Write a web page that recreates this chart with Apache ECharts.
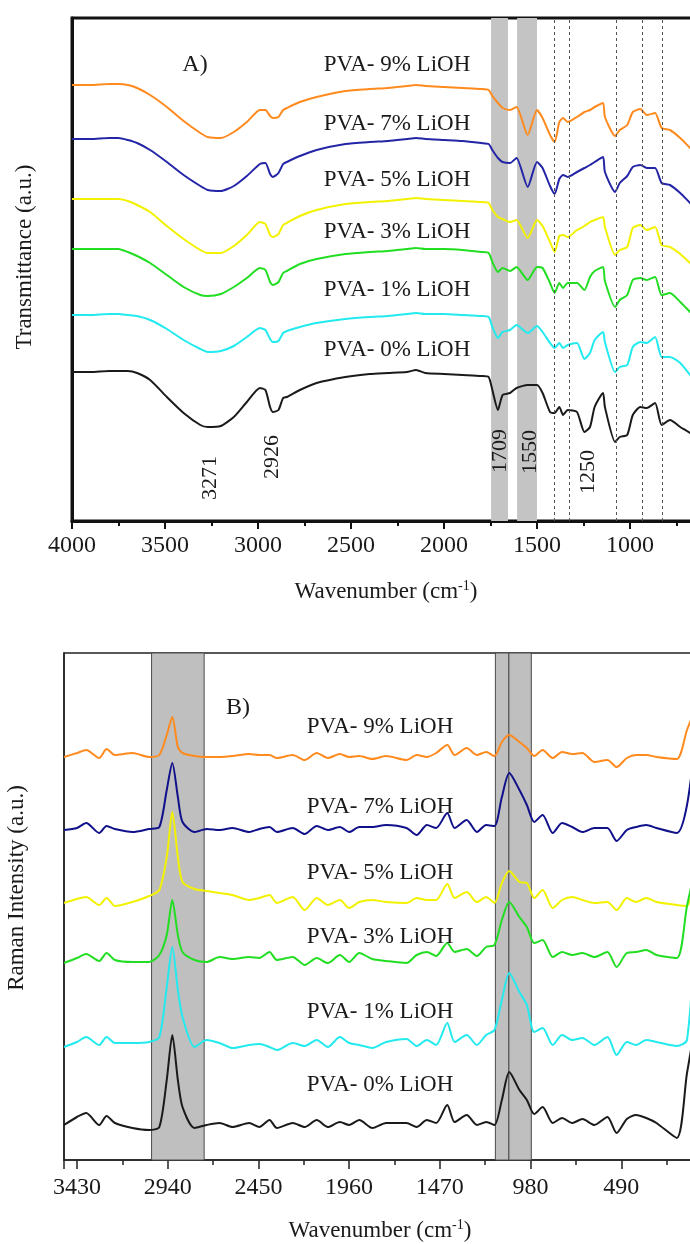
<!DOCTYPE html>
<html><head><meta charset="utf-8">
<script src="https://cdn.jsdelivr.net/npm/echarts@6/dist/echarts.min.js"></script>
<style>html,body{margin:0;padding:0;background:#fff}#c{width:690px;height:1244px}</style>
</head><body><div id="c"></div>
<script>
// ---------- Panel A: FTIR (transmittance, a.u., stacked with offsets) ----------
const ftirWavenumbers = [4000,3900,3800,3750,3700,3650,3580,3490,3400,3310,3270,3200,3130,3060,2990,2960,2935,2920,2890,2865,2845,2775,2685,2530,2400,2300,2200,2150,2100,2000,1900,1800,1760,1740,1710,1685,1645,1610,1550,1500,1470,1430,1405,1380,1360,1335,1285,1245,1215,1190,1145,1135,1080,1055,1015,985,945,910,865,830,785,730,677,660];
const ftir0 = [149,149,150,150,150,148,141,124,108,96,94,95,104,119,133,131,114,109,111,123,124,131,138,144,147,148,149,151,148,147,146,145,144,131,111,126,128,133,136,136,128,109,108,114,106,111,109,89,94,114,128,114,79,84,86,106,114,113,118,96,101,94,88,85];
const ftir1 = [206,206,207,207,206,205,201,192,181,172,169,170,175,184,193,191,182,179,180,188,190,194,198,202,204,205,207,208,207,207,206,205,204,194,183,189,191,196,188,195,189,178,173,178,173,176,178,162,168,181,189,179,149,154,156,174,179,178,184,164,164,158,146,143];
const ftir3 = [272,272,272,272,269,265,258,246,234,226,225,227,234,243,253,251,239,236,239,248,250,257,262,267,269,270,272,273,272,272,271,269,268,259,249,253,250,254,241,254,253,238,228,238,233,238,238,231,244,250,254,240,214,221,226,241,243,241,244,226,228,219,209,206];
const ftir5 = [322,322,322,322,320,316,309,295,282,271,268,268,275,286,299,297,286,284,287,296,298,305,311,317,319,320,322,323,322,321,320,319,318,311,304,302,299,301,283,301,295,279,269,285,286,284,291,295,299,301,304,294,266,271,274,293,296,291,294,276,274,267,258,255];
const ftir7 = [382,382,383,383,381,378,371,359,346,335,331,330,335,345,357,358,347,344,348,357,359,365,371,377,379,380,382,383,382,381,380,378,377,371,363,359,358,363,334,359,353,335,327,342,346,344,349,353,356,359,364,349,329,338,345,354,356,353,353,338,336,328,318,315];
const ftir9 = [436,436,437,437,436,433,426,414,400,388,384,383,389,399,411,411,405,403,404,411,413,419,424,430,432,433,435,436,435,434,433,432,431,425,418,413,411,414,386,411,403,386,379,399,403,399,404,409,411,414,418,404,385,391,396,409,412,406,408,393,391,383,373,370];
const ftirTickLabels = [4000,3500,3000,2500,2000,1500,1000,500];
const ftirBands = [[1747,1656],[1607,1500]];
const ftirDashedLines = [1405,1328,1075,932,828];
const ftirPeakLabels = ['3271','2926','1709','1550','1250'];

// ---------- Panel B: Raman (intensity, a.u., stacked with offsets) ----------
const ramanWavenumbers = [3500,3430,3380,3310,3270,3225,3130,3040,2985,2945,2915,2885,2860,2795,2730,2660,2590,2500,2445,2390,2350,2265,2200,2135,2075,2010,1960,1905,1835,1760,1650,1595,1540,1490,1430,1390,1325,1270,1220,1175,1135,1095,1040,1000,960,915,860,810,755,700,635,565,515,460,410,355,300,190,135,80];
const raman0 = [35,43,47,35,44,37,32,30,33,80,125,80,53,32,35,37,33,37,33,40,32,37,33,40,33,38,35,40,32,37,37,33,40,37,55,38,45,35,38,35,60,88,70,60,46,53,37,42,37,41,35,43,27,41,45,42,37,22,87,145];
const raman1 = [113,118,123,115,123,117,117,118,123,173,213,170,143,113,120,117,112,115,116,113,110,117,114,120,113,123,117,115,112,118,121,114,120,115,137,118,125,115,125,130,160,187,168,155,128,132,115,125,120,122,115,123,105,118,115,120,118,114,120,260];
const raman3 = [197,202,206,199,207,200,198,198,205,225,260,225,208,200,198,203,201,203,202,208,200,203,195,202,197,205,198,207,201,199,197,205,208,204,217,208,211,204,213,215,240,258,243,233,217,220,203,208,205,207,203,208,193,207,208,210,205,202,254,300];
const raman5 = [257,261,263,255,262,254,258,264,270,303,348,303,278,271,269,267,265,260,262,265,257,263,250,262,255,260,252,258,260,258,257,262,260,260,276,262,268,258,263,257,277,289,278,277,262,270,252,260,263,260,257,258,250,262,258,262,258,255,254,305];
const raman7 = [330,332,337,327,334,331,328,331,333,370,397,363,338,328,331,330,332,328,331,333,328,332,326,334,330,333,328,333,333,335,332,325,335,332,347,332,340,328,335,334,363,387,370,355,338,345,327,337,333,328,332,332,319,330,333,335,332,327,355,435];
const raman9 = [403,407,410,402,411,405,407,403,405,425,443,413,407,404,403,403,404,406,405,405,402,405,400,407,402,406,403,404,401,404,400,405,403,407,415,405,412,405,408,404,418,425,418,412,404,410,402,408,406,407,398,400,393,402,405,405,403,401,430,455];
const ramanTickLabels = [3430,2940,2450,1960,1470,980,490];
const ramanBands = [[3027,2743],[1170,1097],[1097,976]];

const sampleNames = ['PVA- 9% LiOH','PVA- 7% LiOH','PVA- 5% LiOH','PVA- 3% LiOH','PVA- 1% LiOH','PVA- 0% LiOH'];

// ---------- styling ----------
const serif = '"Liberation Serif","Times New Roman",serif';
const ink = '#1a1a1a';
const ftirColors = ['#FF8A1E','#2424A6','#F2F200','#22DE22','#22EAEE','#1a1a1a'];
const ramanColors = ['#FF8A1E','#10108A','#F2F200','#22DE22','#22EAEE','#1a1a1a'];
const ftirSets = [ftir9, ftir7, ftir5, ftir3, ftir1, ftir0];
const ramanSets = [raman9, raman7, raman5, raman3, raman1, raman0];

function pairs(xs, ys){ return xs.map((x,i)=>[x, ys[i]]); }

const series = [];
series.push({
  type:'line', xAxisIndex:0, yAxisIndex:0, data:[], z:1, silent:true,
  markArea:{silent:true, itemStyle:{color:'#c4c4c4'}, data: ftirBands.map(b=>[{xAxis:b[0]},{xAxis:b[1]}])},
  markLine:{silent:true, symbol:['none','none'], label:{show:false},
    lineStyle:{type:[3,3], color:'#555', width:1}, data: ftirDashedLines.map(x=>({xAxis:x}))}
});
series.push({
  type:'line', xAxisIndex:1, yAxisIndex:1, data:[], z:1, silent:true,
  markArea:{silent:true, itemStyle:{color:'#bfbfbf', borderColor:'#4a4a4a', borderWidth:1},
    data: ramanBands.map(b=>[{xAxis:b[0]},{xAxis:b[1]}])}
});
ftirSets.forEach((vals,i)=>series.push({
  type:'line', name:'FTIR '+sampleNames[i], xAxisIndex:0, yAxisIndex:0, z:3,
  data: pairs(ftirWavenumbers, vals), showSymbol:false, smooth:0.2,
  lineStyle:{color:ftirColors[i], width:2}, itemStyle:{color:ftirColors[i]}
}));
ramanSets.forEach((vals,i)=>series.push({
  type:'line', name:'Raman '+sampleNames[i], xAxisIndex:1, yAxisIndex:1, z:3,
  data: pairs(ramanWavenumbers, vals), showSymbol:false, smooth:0.25,
  lineStyle:{color:ramanColors[i], width:2}, itemStyle:{color:ramanColors[i]}
}));

function txt(x, y, text, size, rot){
  const o = {type:'text', x:x, y:y, z:10, silent:true,
    style:{text:text, fontSize:size, fontFamily:serif, fill:ink, align:'center', verticalAlign:'middle'}};
  if (rot) o.rotation = rot;
  return o;
}
const graphic = [];
graphic.push(txt(195, 65, 'A)', 24));
[65,124,180,232,290,350].forEach((y,i)=>graphic.push(txt(397, y, sampleNames[i], 23)));
[[210,478],[272,457],[500,451],[530,452],[588,472]].forEach((p,i)=>graphic.push(txt(p[0], p[1], ftirPeakLabels[i], 22, Math.PI/2)));
graphic.push(txt(238, 708, 'B)', 24));
[727,807,873,937,1012,1085].forEach((y,i)=>graphic.push(txt(380, y, sampleNames[i], 23)));
graphic.push(txt(25, 257, 'Transmittance (a.u.)', 23, Math.PI/2));
graphic.push(txt(17, 888, 'Raman Intensity (a.u.)', 23, Math.PI/2));
function axisTitle(x, y){
  return {type:'text', x:x, y:y, z:10, silent:true,
    style:{text:'Wavenumber (cm{sup|-1})', fontSize:23, fontFamily:serif, fill:ink, align:'center', verticalAlign:'middle',
      rich:{sup:{fontSize:14, fontFamily:serif, fill:ink, verticalAlign:'top', lineHeight:26}}}};
}
graphic.push(axisTitle(386, 592));
graphic.push(axisTitle(380, 1231));

const chart = echarts.init(document.getElementById('c'), null, {renderer:'canvas', width:690, height:1244});
chart.setOption({
  animation:false,
  backgroundColor:'#ffffff',
  grid:[
    {left:72, top:18, right:-33, height:503, show:true, borderColor:'#111', borderWidth:3, outerBoundsMode:'none', containLabel:false},
    {left:64, top:653, right:-22, height:507, show:true, borderColor:'#222', borderWidth:1.5, outerBoundsMode:'none', containLabel:false}
  ],
  xAxis:[
    {type:'value', gridIndex:0, min:500, max:4000, interval:500, inverse:true,
     axisLine:{show:true, onZero:false, lineStyle:{color:'#111', width:3}},
     axisTick:{show:true, length:8, lineStyle:{color:'#111', width:2}},
     minorTick:{show:true, splitNumber:2, length:5, lineStyle:{color:'#111', width:2}},
     axisLabel:{margin:13, fontSize:24, fontFamily:serif, color:ink,
       formatter:v=>ftirTickLabels.includes(v)?String(v):''},
     splitLine:{show:false}, minorSplitLine:{show:false}},
    {type:'value', gridIndex:1, min:0, max:3500, interval:490, inverse:true,
     axisLine:{show:true, onZero:false, lineStyle:{color:'#222', width:1.5}},
     axisTick:{show:true, length:9, lineStyle:{color:'#222', width:1.5}},
     minorTick:{show:true, splitNumber:2, length:5, lineStyle:{color:'#222', width:1.5}},
     axisLabel:{margin:16, fontSize:24, fontFamily:serif, color:ink,
       formatter:v=>ramanTickLabels.includes(v)?String(v):''},
     splitLine:{show:false}, minorSplitLine:{show:false}}
  ],
  yAxis:[
    {type:'value', gridIndex:0, min:0, max:503,
     axisLine:{show:true, onZero:false, lineStyle:{color:'#111', width:3}},
     axisTick:{show:false}, axisLabel:{show:false}, splitLine:{show:false}},
    {type:'value', gridIndex:1, min:0, max:507,
     axisLine:{show:true, onZero:false, lineStyle:{color:'#222', width:1.5}},
     axisTick:{show:false}, axisLabel:{show:false}, splitLine:{show:false}}
  ],
  series:series,
  graphic:graphic
});
</script></body></html>
